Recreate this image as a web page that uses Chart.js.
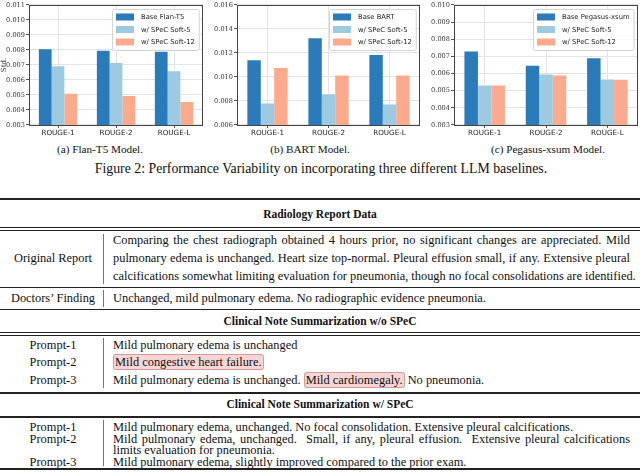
<!DOCTYPE html>
<html>
<head>
<meta charset="utf-8">
<script src="https://cdn.jsdelivr.net/npm/chart.js@4.4.0/dist/chart.umd.min.js"></script>
<style>
  html, body { margin: 0; padding: 0; background: #fff; }
  #fig { position: relative; width: 640px; height: 472px; overflow: hidden; font-family: "Liberation Serif", "Times New Roman", serif; color: #111; }
  canvas { position: absolute; top: 0; }
  .cap { position: absolute; text-align: center; white-space: nowrap; }
  .rule { position: absolute; left: 0; width: 640px; background: #222; }
  .t { position: absolute; font-size: 12.4px; line-height: 14px; white-space: nowrap; }
  .lab { left: 0; width: 106px; text-align: center; }
  .txt { left: 113px; width: 517px; }
  .just { text-align: justify; text-align-last: justify; }
  .head { left: 0; width: 640px; text-align: center; font-weight: bold; font-size: 11.5px; }
  .vbar { position: absolute; left: 103px; width: 1px; background: #777; }
  .hl { background: #f6d5d5; border: 1px solid #d99a9a; border-radius: 3px; padding: 0 1px; }
</style>
</head>
<body>
<div id="fig">
  <canvas id="c1" width="210" height="140" style="left:0px"></canvas>
  <canvas id="c2" width="215" height="140" style="left:210px"></canvas>
  <canvas id="c3" width="215" height="140" style="left:425px"></canvas>

  <div class="cap" style="left:40px;width:120px;top:143px;font-size:11.2px">(a) Flan-T5 Model.</div>
  <div class="cap" style="left:250px;width:120px;top:143px;font-size:11.2px">(b) BART Model.</div>
  <div class="cap" style="left:473px;width:150px;top:143px;font-size:11.2px">(c) Pegasus-xsum Model.</div>
  <div class="cap" style="left:0;width:642px;top:161px;font-size:13.8px">Figure 2: Performance Variability on incorporating three different LLM baselines.</div>

  <div class="rule" style="top:198px;height:1.5px"></div>
  <div class="t head" style="top:207px">Radiology Report Data</div>
  <div class="rule" style="top:227px;height:1px"></div>
  <div class="rule" style="top:230px;height:1px"></div>

  <div class="t lab" style="top:251px">Original Report</div>
  <div class="vbar" style="top:234px;height:50px"></div>
  <div class="t txt just" style="top:233px">Comparing the chest radiograph obtained 4 hours prior, no significant changes are appreciated. Mild</div>
  <div class="t txt just" style="top:251px">pulmonary edema is unchanged. Heart size top-normal. Pleural effusion small, if any. Extensive pleural</div>
  <div class="t txt just" style="top:269px">calcifications somewhat limiting evaluation for pneumonia, though no focal consolidations are identified.</div>
  <div class="rule" style="top:287px;height:1px"></div>

  <div class="t lab" style="top:291px">Doctors’ Finding</div>
  <div class="vbar" style="top:290px;height:17px"></div>
  <div class="t txt" style="top:291px">Unchanged, mild pulmonary edema. No radiographic evidence pneumonia.</div>
  <div class="rule" style="top:309px;height:1px"></div>

  <div class="t head" style="top:314px">Clinical Note Summarization w/o SPeC</div>
  <div class="rule" style="top:332px;height:1px"></div>
  <div class="rule" style="top:335px;height:1px"></div>

  <div class="vbar" style="top:338px;height:50px"></div>
  <div class="t lab" style="top:338px">Prompt-1</div>
  <div class="t txt" style="top:338px">Mild pulmonary edema is unchanged</div>
  <div class="t lab" style="top:355px">Prompt-2</div>
  <div class="t txt" style="top:355px"><span class="hl">Mild congestive heart failure.</span></div>
  <div class="t lab" style="top:373px">Prompt-3</div>
  <div class="t txt" style="top:373px">Mild pulmonary edema is unchanged. <span class="hl">Mild cardiomegaly.</span> No pneumonia.</div>
  <div class="rule" style="top:392px;height:1.5px"></div>

  <div class="t head" style="top:397px">Clinical Note Summarization w/ SPeC</div>
  <div class="rule" style="top:416px;height:1.5px"></div>

  <div class="vbar" style="top:420px;height:46px"></div>
  <div class="t lab" style="top:420px">Prompt-1</div>
  <div class="t txt" style="top:420px">Mild pulmonary edema, unchanged. No focal consolidation. Extensive pleural calcifications.</div>
  <div class="t lab" style="top:432px">Prompt-2</div>
  <div class="t txt just" style="top:432px">Mild pulmonary edema, unchanged.&nbsp; Small, if any, pleural effusion.&nbsp; Extensive pleural calcifications</div>
  <div class="t txt" style="top:443px">limits evaluation for pneumonia.</div>
  <div class="t lab" style="top:455px">Prompt-3</div>
  <div class="t txt" style="top:455px">Mild pulmonary edema, slightly improved compared to the prior exam.</div>
  <div class="rule" style="top:468px;height:1.5px"></div>
</div>

<script>
// categories and series
const categories = ['ROUGE-1', 'ROUGE-2', 'ROUGE-L'];
const seriesLabels = ['w/ SPeC Soft-5', 'w/ SPeC Soft-12'];
const colors = ['#2b7bba', '#9ecae1', '#fcaa8d'];

const flanBase = [0.00804, 0.00795, 0.00789];
const flanSoft5 = [0.00691, 0.00714, 0.00658];
const flanSoft12 = [0.00509, 0.00493, 0.00453];

const bartBase = [0.01140, 0.01322, 0.01184];
const bartSoft5 = [0.00779, 0.00856, 0.00771];
const bartSoft12 = [0.01074, 0.01013, 0.01013];

const pegBase = [0.00728, 0.00645, 0.00689];
const pegSoft5 = [0.00531, 0.00595, 0.00566];
const pegSoft12 = [0.00530, 0.00589, 0.00564];

// y axis ticks: [min, max, step]
const flanTicks = [0.003, 0.011, 0.001];
const bartTicks = [0.006, 0.016, 0.002];
const pegTicks = [0.003, 0.010, 0.001];

// legend box inside the plot + full frame around the axes
const frameAndLegend = {
    id: 'frameAndLegend',
    afterDraw: function (chart) {
        var ctx = chart.ctx;
        var a = chart.chartArea;
        ctx.save();
        ctx.strokeStyle = '#444';
        ctx.lineWidth = 1;
        ctx.strokeRect(Math.round(a.left) + 0.5, Math.round(a.top) + 0.5,
            Math.round(a.right - a.left) - 1, Math.round(a.bottom - a.top));

        ctx.font = '6.8px "DejaVu Sans"';
        var labels = chart.data.datasets.map(function (d) { return d.label; });
        var maxW = Math.max.apply(null, labels.map(function (l) { return ctx.measureText(l).width; }));
        var w = 4 + 18 + 7 + maxW + 4;
        var h = 41;
        var x0 = Math.round(a.right - 4 - w);
        var y0 = Math.round(a.top + 4);
        ctx.fillStyle = 'rgba(255,255,255,0.85)';
        ctx.strokeStyle = '#d4d4d4';
        ctx.beginPath();
        ctx.roundRect(x0 + 0.5, y0 + 0.5, w, h, 2);
        ctx.fill();
        ctx.stroke();
        ctx.textBaseline = 'middle';
        ctx.textAlign = 'left';
        chart.data.datasets.forEach(function (d, i) {
            var yc = y0 + 8 + i * 12.5;
            ctx.fillStyle = d.backgroundColor;
            ctx.fillRect(x0 + 4, yc - 3.5, 18, 7);
            ctx.fillStyle = '#222';
            ctx.fillText(d.label, x0 + 4 + 18 + 7, yc + 0.5);
        });
        ctx.restore();
    }
};

function makeChart(id, baseLabel, base, soft5, soft12, ticks, yWidth, padRight, showTitle) {
    return new Chart(document.getElementById(id), {
        type: 'bar',
        data: {
            labels: categories,
            datasets: [
                { label: baseLabel, data: base, backgroundColor: colors[0] },
                { label: seriesLabels[0], data: soft5, backgroundColor: colors[1] },
                { label: seriesLabels[1], data: soft12, backgroundColor: colors[2] },
            ]
        },
        options: {
            responsive: false,
            animation: false,
            devicePixelRatio: 1,
            layout: { padding: { top: 3, right: padRight, bottom: 0, left: 0 } },
            datasets: { bar: { categoryPercentage: 0.66, barPercentage: 1.0 } },
            plugins: { legend: { display: false }, tooltip: { enabled: false } },
            scales: {
                x: {
                    grid: { offset: false, color: '#e4e4e4', tickLength: 3, tickColor: '#555' },
                    border: { display: false },
                    ticks: { color: '#222', padding: 1, font: { family: 'DejaVu Sans', size: 7.2 } },
                    afterFit: function (s) { s.height = 15; }
                },
                y: {
                    min: ticks[0], max: ticks[1],
                    grid: { color: '#e4e4e4', tickLength: 3, tickColor: '#555' },
                    border: { display: false },
                    ticks: {
                        stepSize: ticks[2], color: '#333', padding: 1,
                        font: { family: 'DejaVu Serif', size: 6.6 },
                        callback: function (v) { return v.toFixed(3); }
                    },
                    title: { display: showTitle, text: 'Std.', color: '#222', padding: 0,
                        font: { family: 'DejaVu Serif', size: 7 } },
                    afterFit: function (s) { s.width = yWidth; }
                }
            }
        },
        plugins: [frameAndLegend]
    });
}

makeChart('c1', 'Base Flan-T5', flanBase, flanSoft5, flanSoft12, flanTicks, 29, 7, true);
makeChart('c2', 'Base BART', bartBase, bartSoft5, bartSoft12, bartTicks, 27, 5, false);
makeChart('c3', 'Base Pegasus-xsum', pegBase, pegSoft5, pegSoft12, pegTicks, 29, 2, false);
</script>
</body>
</html>
